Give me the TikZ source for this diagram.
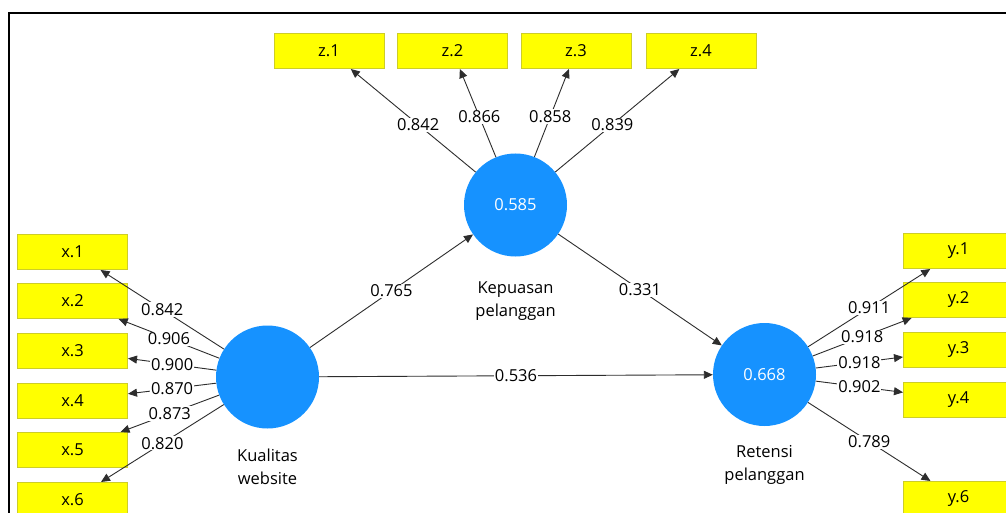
\documentclass[tikz,border=0pt]{standalone}
\usepackage{fontspec}
\setmainfont{Open Sans}
\usetikzlibrary{arrows.meta}
\definecolor{boxfill}{RGB}{255,255,0}
\definecolor{boxline}{RGB}{205,205,40}
\definecolor{lvblue}{RGB}{22,146,255}
\definecolor{linegray}{RGB}{45,45,45}
\tikzset{
  ind/.style={draw=boxline, line width=1pt, fill=boxfill, minimum width=110pt, minimum height=35pt, inner sep=0pt, font=\fontsize{16.5}{18}\selectfont, text=black},
  lv/.style={circle, fill=lvblue, minimum size=103pt, inner sep=0pt, font=\fontsize{16.5}{18}\selectfont, text=white},
  lvname/.style={align=center, font=\fontsize{16.5}{23}\selectfont, text=black},
  conn/.style={draw=linegray, line width=0.9pt, -{Triangle[length=9pt,width=8pt]}},
  val/.style={fill=white, inner sep=1pt, font=\fontsize{16.5}{18}\selectfont, text=black, pos=0.5}
}
\begin{document}
\begin{tikzpicture}[x=1pt,y=-1pt]
\useasboundingbox (0,0) rectangle (1006,513);
\clip (0,0) rectangle (1006,513);
\fill[white] (0,0) rectangle (1006,513);
% frame
\draw[black, line width=2pt] (9,520) -- (9,13.5) -- (1010,13.5);
% latent variables
\node[lv] (kw) at (267.5,377) {};
\node[lv] (kp) at (515.5,205) {0.585};
\node[lv] (rp) at (764.5,374.5) {0.668};
\node[lvname] (kwl) at (267.5,467) {Kualitas\\website};
\node[lvname] (kpl) at (515.5,301) {Kepuasan\\pelanggan};
\node[lvname] (rpl) at (764.5,465) {Retensi\\pelanggan};
% indicators x
\node[ind] (x1) at (72.5,252) {x.1};
\node[ind] (x2) at (72.5,301) {x.2};
\node[ind] (x3) at (72.5,351) {x.3};
\node[ind] (x4) at (72.5,400.5) {x.4};
\node[ind] (x5) at (72.5,450) {x.5};
\node[ind] (x6) at (72.5,500) {x.6};
% indicators z
\node[ind] (z1) at (329,51) {z.1};
\node[ind] (z2) at (452.5,51) {z.2};
\node[ind] (z3) at (576,51) {z.3};
\node[ind] (z4) at (701,51) {z.4};
% indicators y
\node[ind] (y1) at (958.5,251) {y.1};
\node[ind] (y2) at (958.5,300) {y.2};
\node[ind] (y3) at (958.5,350) {y.3};
\node[ind] (y4) at (958.5,399.5) {y.4};
\node[ind] (y6) at (958.5,499) {y.6};
% outer loadings
\draw[conn] (kw) -- node[val] {0.842} (x1);
\draw[conn] (kw) -- node[val] {0.906} (x2);
\draw[conn] (kw) -- node[val] {0.900} (x3);
\draw[conn] (kw) -- node[val] {0.870} (x4);
\draw[conn] (kw) -- node[val] {0.873} (x5);
\draw[conn] (kw) -- node[val] {0.820} (x6);
\draw[conn] (kp) -- node[val, pos=0.46] {0.842} (z1);
\draw[conn] (kp) -- node[val, pos=0.46] {0.866} (z2);
\draw[conn] (kp) -- node[val, pos=0.46] {0.858} (z3);
\draw[conn] (kp) -- node[val, pos=0.46] {0.839} (z4);
\draw[conn] (rp) -- node[val] {0.911} (y1);
\draw[conn] (rp) -- node[val] {0.918} (y2);
\draw[conn] (rp) -- node[val] {0.918} (y3);
\draw[conn] (rp) -- node[val] {0.902} (y4);
\draw[conn] (rp) -- node[val] {0.789} (y6);
% path coefficients
\draw[conn] (kw) -- node[val] {0.765} (kp);
\draw[conn] (kp) -- node[val] {0.331} (rp);
\draw[conn] (kw) -- node[val] {0.536} (rp);
\end{tikzpicture}
\end{document}
